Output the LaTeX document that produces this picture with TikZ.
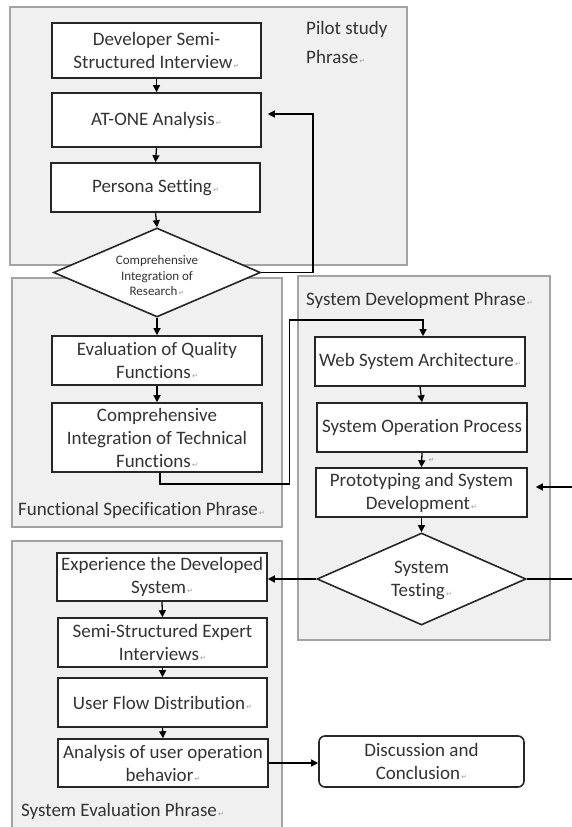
\documentclass[tikz,border=0pt]{standalone}
\usepackage{fontspec}
\setmainfont{Carlito}[Ligatures={NoCommon}]
\newfontfamily\djv{DejaVu Sans}
\usetikzlibrary{arrows.meta,shapes.geometric}
\definecolor{panelfill}{HTML}{F0F0F0}
\definecolor{paneldraw}{HTML}{A3A3A3}
\definecolor{boxdraw}{HTML}{262626}
\definecolor{txt}{HTML}{333333}
\definecolor{retcol}{HTML}{9A9A9A}
\newcommand{\rmk}{{\djv\fontsize{7}{7}\selectfont\color{retcol}\,↵}}
\tikzset{
  panel/.style={draw=paneldraw, line width=1.3pt, fill=panelfill},
  stepbox/.style={draw=boxdraw, line width=1.6pt, fill=white, text=txt, align=center,
    inner sep=1pt, font=\fontsize{19}{23}\selectfont},
  dia/.style={diamond, draw=boxdraw, line width=1.6pt, fill=white, inner sep=0pt},
  diatext/.style={text=txt, align=center, inner sep=0pt},
  title/.style={text=txt, align=left, inner sep=0pt, font=\fontsize{19}{23}\selectfont},
  arr/.style={draw=black, line width=1.3pt, -{Triangle[length=7pt,width=7pt]}},
  plain/.style={draw=black, line width=1.3pt}
}
\begin{document}
\begin{tikzpicture}[x=1pt,y=-1pt]
\useasboundingbox (0,0) rectangle (572,827);
% panels
\draw[panel] (10,7) rectangle (407,265);
\draw[panel] (12,278) rectangle (282,527);
\draw[panel] (298,276) rectangle (550,640);
\draw[panel] (12,541) rectangle (282,835);
% panel titles
\node[title, anchor=north west, font=\fontsize{19}{29}\selectfont] (tpilot) at (306,21) {Pilot study\\Phrase\rmk};
\node[title, anchor=west] (tfunc) at (18,510) {Functional Specification Phrase\rmk};
\node[title, anchor=west] (tdev) at (306,300) {System Development Phrase\rmk};
\node[title, anchor=west] (teval) at (21,811) {System Evaluation Phrase\rmk};
% pilot study
\node[stepbox, minimum width=209pt, minimum height=55pt] (dev) at (156.5,50.5) {Developer Semi-\\Structured Interview\rmk};
\node[stepbox, minimum width=209pt, minimum height=54pt] (at) at (156.5,120) {AT-ONE Analysis\rmk};
\node[stepbox, minimum width=209pt, minimum height=49pt] (persona) at (155.5,187.5) {Persona Setting\rmk};
\node[dia, minimum width=207pt, minimum height=89pt] (cir) at (157,272.5) {};
\node[diatext, font=\fontsize{13}{15.5}\selectfont] (cirt) at (157,276) {Comprehensive\\Integration of\\Research\rmk};
% functional specification
\node[stepbox, minimum width=210pt, minimum height=49pt] (eq) at (157,360.5) {Evaluation of Quality\\Functions\rmk};
\node[stepbox, minimum width=210pt, minimum height=69pt] (tech) at (157,437.5) {Comprehensive\\Integration of Technical\\Functions\rmk};
% system development
\node[stepbox, minimum width=210pt, minimum height=49pt] (web) at (420,361.5) {Web System Architecture\rmk};
\node[stepbox, minimum width=210pt, minimum height=49pt] (sop) at (422,427.5) {System Operation Process};
\node[inner sep=0pt] (retmark) at (431,460) {\rmk};
\node[stepbox, minimum width=211pt, minimum height=49pt] (proto) at (421.5,492.5) {Prototyping and System\\Development\rmk};
\node[dia, minimum width=209pt, minimum height=92pt] (st) at (421.5,579) {};
\node[diatext, font=\fontsize{19}{23}\selectfont] (stt) at (421.5,580) {System\\Testing\rmk};
% system evaluation
\node[stepbox, minimum width=210pt, minimum height=48pt] (exp) at (162,577) {Experience the Developed\\System\rmk};
\node[stepbox, minimum width=209pt, minimum height=49pt] (sse) at (162.5,642.5) {Semi-Structured Expert\\Interviews\rmk};
\node[stepbox, minimum width=209pt, minimum height=49pt] (ufd) at (162.5,702.5) {User Flow Distribution\rmk};
\node[stepbox, minimum width=210pt, minimum height=48pt] (aub) at (163,763) {Analysis of user operation\\behavior\rmk};
\node[stepbox, rounded corners=6pt, minimum width=205pt, minimum height=51pt] (dc) at (421.5,761.5) {Discussion and\\Conclusion\rmk};
% connectors
\coordinate (lp) at (313,0);
\coordinate (b1) at (289.5,484);
\coordinate (b2) at (289.5,320);
\coordinate (rin) at (572,487);
\coordinate (rout) at (572,579);
\draw[arr] (dev.south) -- (at.north);
\draw[arr] (at.south) -- (persona.north);
\draw[arr] (persona.south) -- (cir.north);
\draw[arr] (cir.east) -- (cir.east -| lp) |- ([xshift=6pt,yshift=6pt]at.east);
\draw[arr] (cir.south) -- (eq.north);
\draw[arr] (eq.south) -- (tech.north);
\draw[arr] ([xshift=3pt]tech.south) |- (b1) -- (b2) -| ([xshift=3pt]web.north);
\draw[arr] (web.south) -- (sop.north);
\draw[arr] (sop.south) -- (proto.north);
\draw[arr] (proto.south) -- (st.north);
\draw[arr] (rin) -- ([xshift=8pt]proto.east |- rin);
\draw[plain] (st.east) -- (rout);
\draw[arr] (st.west) -- (st.west -| exp.east);
\draw[arr] (exp.south) -- (sse.north);
\draw[arr] (sse.south) -- (ufd.north);
\draw[arr] (ufd.south) -- (aub.north);
\draw[arr] (aub.east) -- (aub.east -| dc.west);
\end{tikzpicture}
\end{document}
